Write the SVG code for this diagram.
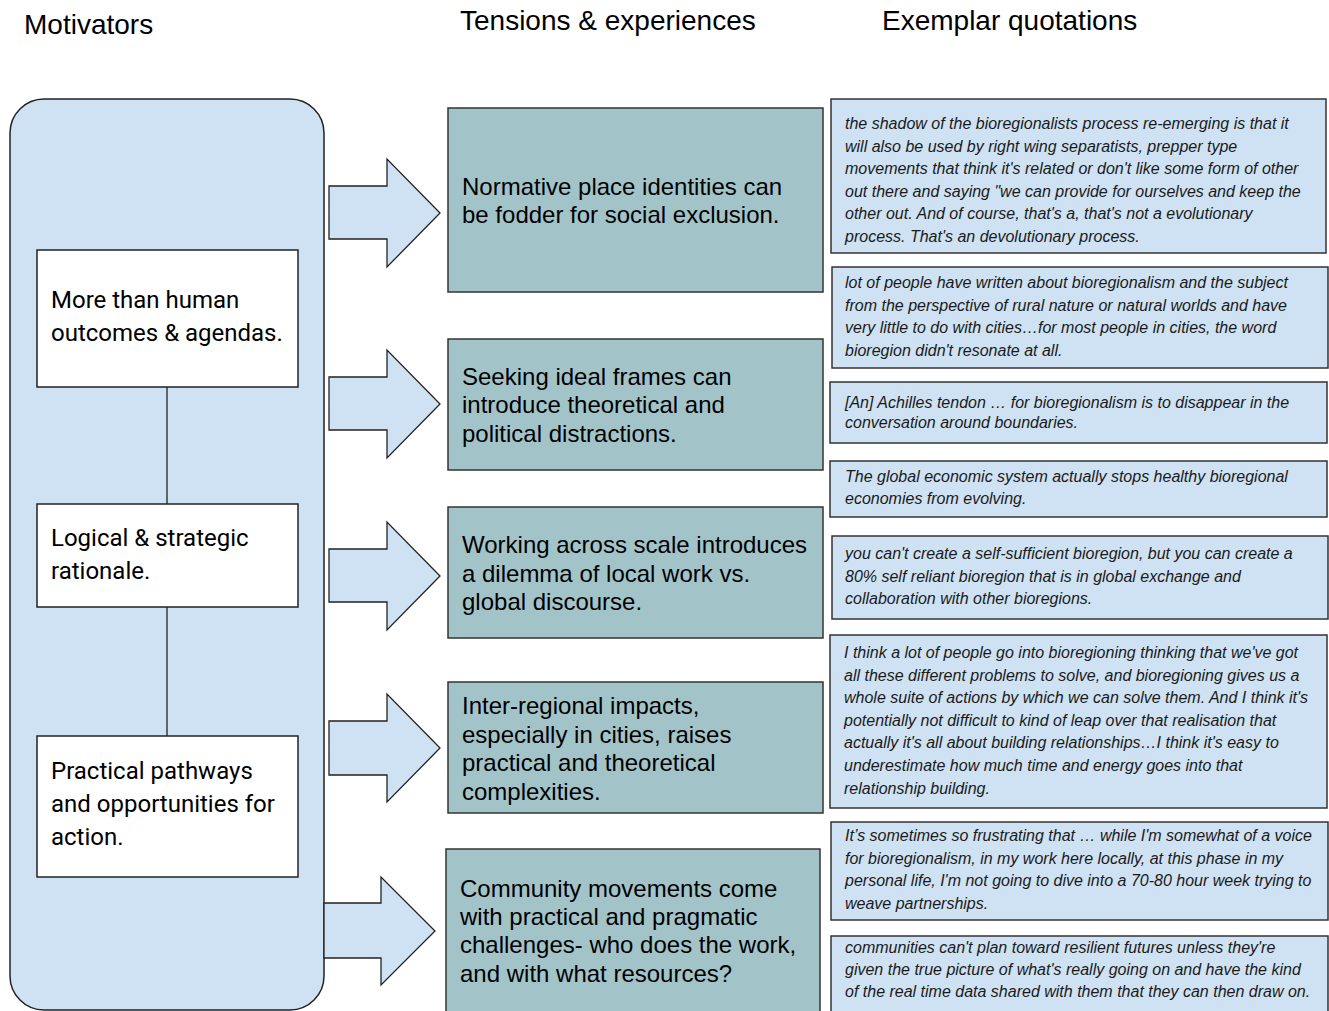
<svg xmlns="http://www.w3.org/2000/svg" width="1329" height="1011" viewBox="0 0 1329 1011">
<style>
.hdr{font-family:"Liberation Sans",Arial,sans-serif;font-size:28px;fill:#000}
.mot{font-family:Roboto,"Liberation Sans",sans-serif;font-size:24px;fill:#000}
.ten{font-family:"Liberation Sans",Arial,sans-serif;font-size:24px;fill:#000}
.quo{font-family:"Liberation Sans",Arial,sans-serif;font-size:16px;font-style:italic;fill:#1a1a1a}
.frame{fill:#cfe2f3;stroke:#222;stroke-width:1.5}
.wbox{fill:#fff;stroke:#222;stroke-width:1.5}
.tbox{fill:#a2c4c9;stroke:#333;stroke-width:1.5}
.qbox{fill:#cfe2f3;stroke:#333;stroke-width:1.5}
.arrow{fill:#cfe2f3;stroke:#222;stroke-width:1.3;stroke-linejoin:miter}
.conn{stroke:#222;stroke-width:1.3;fill:none}
</style>

<g id="headers">
<text class="hdr" x="24" y="34">Motivators</text>
<text class="hdr" x="460" y="30">Tensions &amp; experiences</text>
<text class="hdr" x="882" y="30">Exemplar quotations</text>
</g>

<g id="motivators-frame">
<rect class="frame" x="10" y="99" width="314" height="911" rx="34" ry="34"/>
</g>

<g id="connectors">
<line class="conn" x1="167" y1="387" x2="167" y2="504"/>
<line class="conn" x1="167" y1="607" x2="167" y2="736"/>
</g>

<g id="arrows">
<polygon class="arrow" points="329,186 387,186 387,159 440,213 387,267 387,239 329,239"/>
<polygon class="arrow" points="329,377 387,377 387,350 440,404 387,458 387,430 329,430"/>
<polygon class="arrow" points="329,549 387,549 387,522 440,576 387,630 387,602 329,602"/>
<polygon class="arrow" points="329,721 387,721 387,694 440,748 387,802 387,775 329,775"/>
<polygon class="arrow" points="324,903 381,903 381,877 435,931 381,985 381,958 324,958"/>
</g>

<g id="motivator-1">
<rect class="wbox" x="37" y="250" width="261" height="137"/>
<text class="mot" x="51" y="308">More than human</text>
<text class="mot" x="51" y="341">outcomes &amp; agendas.</text>
</g>
<g id="motivator-2">
<rect class="wbox" x="37" y="504" width="261" height="103"/>
<text class="mot" x="51" y="546">Logical &amp; strategic</text>
<text class="mot" x="51" y="579">rationale.</text>
</g>
<g id="motivator-3">
<rect class="wbox" x="37" y="736" width="261" height="141"/>
<text class="mot" x="51" y="779">Practical pathways</text>
<text class="mot" x="51" y="812">and opportunities for</text>
<text class="mot" x="51" y="845">action.</text>
</g>

<g id="tension-1">
<rect class="tbox" x="448" y="108" width="375" height="184"/>
<text class="ten" x="462" y="195">Normative place identities can</text>
<text class="ten" x="462" y="223">be fodder for social exclusion.</text>
</g>
<g id="tension-2">
<rect class="tbox" x="448" y="339" width="375" height="131"/>
<text class="ten" x="462" y="385">Seeking ideal frames can</text>
<text class="ten" x="462" y="413">introduce theoretical and</text>
<text class="ten" x="462" y="442">political distractions.</text>
</g>
<g id="tension-3">
<rect class="tbox" x="448" y="507" width="375" height="131"/>
<text class="ten" x="462" y="553">Working across scale introduces</text>
<text class="ten" x="462" y="582">a dilemma of local work vs.</text>
<text class="ten" x="462" y="610">global discourse.</text>
</g>
<g id="tension-4">
<rect class="tbox" x="448" y="682" width="375" height="131"/>
<text class="ten" x="462" y="714">Inter-regional impacts,</text>
<text class="ten" x="462" y="743">especially in cities, raises</text>
<text class="ten" x="462" y="771">practical and theoretical</text>
<text class="ten" x="462" y="800">complexities.</text>
</g>
<g id="tension-5">
<rect class="tbox" x="446" y="849" width="374" height="180"/>
<text class="ten" x="460" y="897">Community movements come</text>
<text class="ten" x="460" y="925">with practical and pragmatic</text>
<text class="ten" x="460" y="953">challenges- who does the work,</text>
<text class="ten" x="460" y="982">and with what resources?</text>
</g>

<g id="quote-1">
<rect class="qbox" x="831" y="99" width="495" height="154"/>
<text class="quo" x="845" y="129">the shadow of the bioregionalists process re-emerging is that it</text>
<text class="quo" x="845" y="151.5">will also be used by right wing separatists, prepper type</text>
<text class="quo" x="845" y="174">movements that think it's related or don't like some form of other</text>
<text class="quo" x="845" y="196.5">out there and saying "we can provide for ourselves and keep the</text>
<text class="quo" x="845" y="219">other out. And of course, that's a, that's not a evolutionary</text>
<text class="quo" x="845" y="241.5">process. That's an devolutionary process.</text>
</g>
<g id="quote-2">
<rect class="qbox" x="832" y="267" width="496" height="101"/>
<text class="quo" x="845" y="288">lot of people have written about bioregionalism and the subject</text>
<text class="quo" x="845" y="310.5">from the perspective of rural nature or natural worlds and have</text>
<text class="quo" x="845" y="333">very little to do with cities…for most people in cities, the word</text>
<text class="quo" x="845" y="355.5">bioregion didn't resonate at all.</text>
</g>
<g id="quote-3">
<rect class="qbox" x="830" y="382" width="497" height="61"/>
<text class="quo" x="845" y="408">[An] Achilles tendon … for bioregionalism is to disappear in the</text>
<text class="quo" x="845" y="428">conversation around boundaries.</text>
</g>
<g id="quote-4">
<rect class="qbox" x="830" y="461" width="497" height="56"/>
<text class="quo" x="845" y="482">The global economic system actually stops healthy bioregional</text>
<text class="quo" x="845" y="504">economies from evolving.</text>
</g>
<g id="quote-5">
<rect class="qbox" x="832" y="536" width="496" height="83"/>
<text class="quo" x="845" y="559">you can't create a self-sufficient bioregion, but you can create a</text>
<text class="quo" x="845" y="581.5">80% self reliant bioregion that is in global exchange and</text>
<text class="quo" x="845" y="604">collaboration with other bioregions.</text>
</g>
<g id="quote-6">
<rect class="qbox" x="830" y="635" width="497" height="173"/>
<text class="quo" x="844" y="658">I think a lot of people go into bioregioning thinking that we've got</text>
<text class="quo" x="844" y="680.6">all these different problems to solve, and bioregioning gives us a</text>
<text class="quo" x="844" y="703.2">whole suite of actions by which we can solve them. And I think it's</text>
<text class="quo" x="844" y="725.8">potentially not difficult to kind of leap over that realisation that</text>
<text class="quo" x="844" y="748.4">actually it's all about building relationships…I think it's easy to</text>
<text class="quo" x="844" y="771">underestimate how much time and energy goes into that</text>
<text class="quo" x="844" y="793.6">relationship building.</text>
</g>
<g id="quote-7">
<rect class="qbox" x="831" y="822" width="497" height="98"/>
<text class="quo" x="845" y="841">It’s sometimes so frustrating that … while I'm somewhat of a voice</text>
<text class="quo" x="845" y="863.5">for bioregionalism, in my work here locally, at this phase in my</text>
<text class="quo" x="845" y="886">personal life, I'm not going to dive into a 70-80 hour week trying to</text>
<text class="quo" x="845" y="908.5">weave partnerships.</text>
</g>
<g id="quote-8">
<rect class="qbox" x="831" y="936" width="497" height="100"/>
<text class="quo" x="845" y="953">communities can't plan toward resilient futures unless they're</text>
<text class="quo" x="845" y="975">given the true picture of what's really going on and have the kind</text>
<text class="quo" x="845" y="997">of the real time data shared with them that they can then draw on.</text>
</g>
</svg>
